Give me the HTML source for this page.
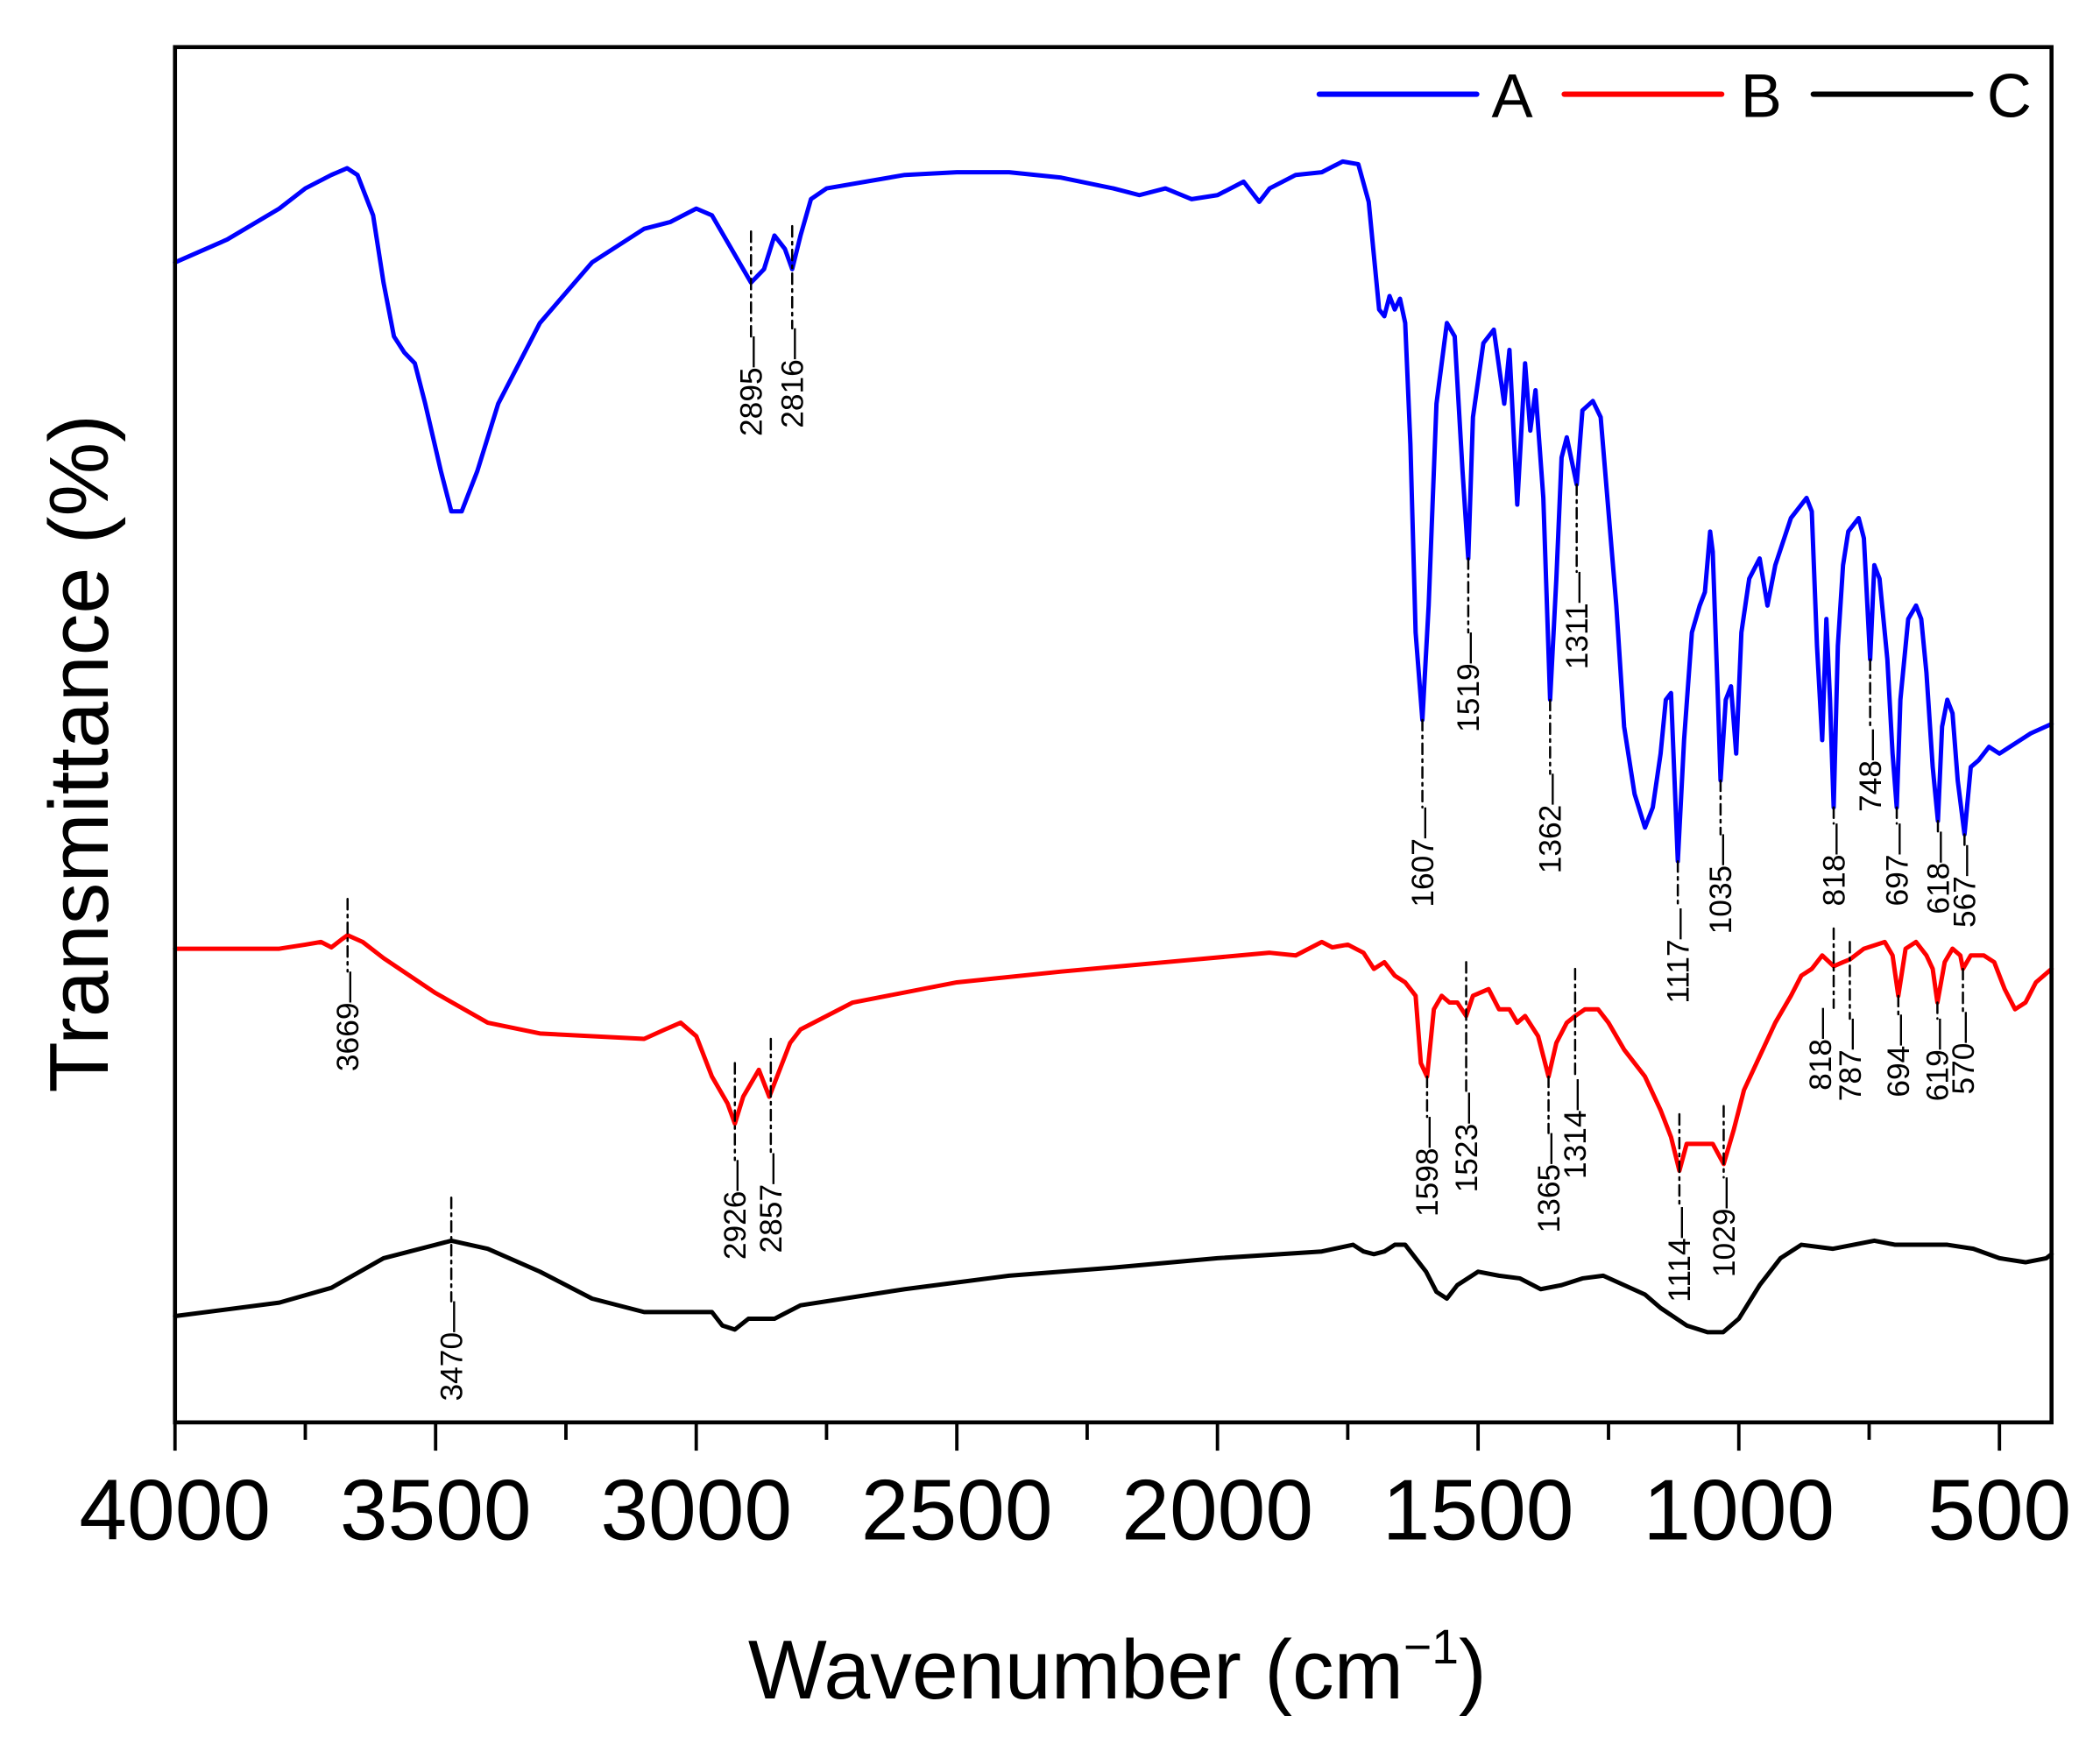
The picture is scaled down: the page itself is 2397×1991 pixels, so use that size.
<!DOCTYPE html>
<html><head><meta charset="utf-8"><style>html,body{margin:0;padding:0;background:#fff}svg{display:block}</style></head>
<body>
<svg width="2397" height="1991" viewBox="0 0 1560 1296" preserveAspectRatio="none" xmlns="http://www.w3.org/2000/svg" font-family="Liberation Sans, Arial, sans-serif">
<rect width="1560" height="1296" fill="#fff"/>
<g transform="matrix(-0.38722 0 0 1 1678.9 0)" fill="none" stroke-linejoin="round" stroke-linecap="round">
<polyline vector-effect="non-scaling-stroke" stroke="#0000ff" stroke-width="5" points="4000,195 3900,178 3800,155 3750,140 3700,130 3670,125 3650,130 3620,160 3600,210 3580,250 3560,262 3540,270 3520,300 3490,350 3470,380 3450,380 3420,350 3380,300 3300,240 3200,195 3100,170 3050,165 3000,155 2970,160 2940,180 2910,200 2895,210 2870,200 2850,175 2830,185 2816,200 2800,175 2780,148 2750,140 2600,130 2500,128 2400,128 2300,132 2200,140 2150,145 2100,140 2050,148 2000,145 1950,135 1920,150 1900,140 1850,130 1800,128 1760,120 1730,122 1710,150 1690,230 1680,235 1670,220 1660,230 1650,222 1640,240 1630,330 1620,470 1607,535 1595,450 1580,300 1560,240 1545,250 1530,350 1519,415 1510,310 1490,255 1470,245 1450,300 1440,260 1425,375 1410,270 1400,320 1390,290 1375,370 1362,520 1350,430 1340,340 1330,325 1311,360 1300,305 1280,298 1265,310 1250,380 1235,450 1220,540 1200,590 1180,615 1165,600 1150,560 1140,520 1130,515 1117,640 1105,550 1090,470 1075,450 1065,440 1055,395 1050,410 1040,520 1035,580 1025,520 1015,510 1005,560 995,470 980,430 960,415 945,450 930,420 900,385 870,370 860,380 850,480 840,550 832,460 825,520 818,600 810,480 800,420 790,395 770,385 760,400 748,490 740,420 730,430 715,490 705,560 697,600 690,520 675,460 660,450 650,460 640,500 628,570 618,610 610,540 600,520 590,530 580,580 567,620 555,570 540,565 520,555 500,560 480,555 460,550 440,545 400,538"/>
<polyline vector-effect="non-scaling-stroke" stroke="#ff0000" stroke-width="5" points="4000,705 3800,705 3750,702 3720,700 3700,704 3680,698 3669,695 3640,700 3600,712 3500,738 3400,760 3300,768 3100,772 3060,765 3030,760 3000,770 2970,800 2940,820 2926,835 2910,815 2880,795 2860,815 2845,800 2820,775 2800,765 2700,745 2500,730 2300,722 2100,715 1900,708 1850,710 1800,700 1780,704 1750,702 1720,708 1700,720 1680,715 1660,725 1640,730 1620,740 1610,790 1598,800 1585,750 1570,740 1555,745 1540,745 1523,755 1510,740 1480,735 1460,750 1440,750 1425,760 1410,755 1385,770 1365,800 1350,775 1330,760 1314,755 1295,750 1270,750 1250,760 1220,780 1180,800 1150,825 1130,845 1114,870 1100,850 1070,850 1050,850 1029,865 1010,840 990,810 960,785 930,760 900,740 880,725 860,720 840,710 818,718 800,715 787,713 760,705 720,700 705,710 694,740 680,705 660,700 640,710 628,720 619,745 605,715 590,705 575,710 570,720 555,710 530,710 510,715 490,735 470,750 450,745 430,730 400,720"/>
<polyline vector-effect="non-scaling-stroke" stroke="#000" stroke-width="5" points="4000,978 3800,968 3700,957 3600,935 3500,925 3470,922 3400,928 3300,945 3200,965 3100,975 3000,975 2970,975 2950,985 2926,988 2900,980 2850,980 2800,970 2600,958 2400,948 2200,942 2000,935 1800,930 1740,925 1720,930 1700,932 1680,930 1660,925 1640,925 1620,935 1600,945 1580,960 1560,965 1540,955 1500,945 1460,948 1420,950 1380,958 1340,955 1300,950 1260,948 1220,955 1180,962 1150,972 1100,985 1060,990 1030,990 1000,980 960,955 920,935 880,925 820,928 780,925 740,922 700,925 660,925 600,925 550,928 500,935 450,938 410,935 400,932"/>
<g stroke="#000" stroke-width="2.5" stroke-dasharray="12,6,3,6">
<line vector-effect="non-scaling-stroke" x1="2895" y1="172" x2="2895" y2="250"/>
<line vector-effect="non-scaling-stroke" x1="2816" y1="168" x2="2816" y2="244"/>
<line vector-effect="non-scaling-stroke" x1="1607" y1="535" x2="1607" y2="600"/>
<line vector-effect="non-scaling-stroke" x1="1519" y1="415" x2="1519" y2="470"/>
<line vector-effect="non-scaling-stroke" x1="1362" y1="520" x2="1362" y2="575"/>
<line vector-effect="non-scaling-stroke" x1="1311" y1="360" x2="1311" y2="425"/>
<line vector-effect="non-scaling-stroke" x1="1117" y1="640" x2="1117" y2="675"/>
<line vector-effect="non-scaling-stroke" x1="1035" y1="580" x2="1035" y2="620"/>
<line vector-effect="non-scaling-stroke" x1="818" y1="600" x2="818" y2="612"/>
<line vector-effect="non-scaling-stroke" x1="748" y1="490" x2="748" y2="542"/>
<line vector-effect="non-scaling-stroke" x1="697" y1="600" x2="697" y2="612"/>
<line vector-effect="non-scaling-stroke" x1="618" y1="610" x2="618" y2="618"/>
<line vector-effect="non-scaling-stroke" x1="567" y1="620" x2="567" y2="628"/>
<line vector-effect="non-scaling-stroke" x1="3669" y1="668" x2="3669" y2="722"/>
<line vector-effect="non-scaling-stroke" x1="2926" y1="790" x2="2926" y2="862"/>
<line vector-effect="non-scaling-stroke" x1="2857" y1="772" x2="2857" y2="857"/>
<line vector-effect="non-scaling-stroke" x1="1598" y1="800" x2="1598" y2="830"/>
<line vector-effect="non-scaling-stroke" x1="1523" y1="715" x2="1523" y2="812"/>
<line vector-effect="non-scaling-stroke" x1="1365" y1="800" x2="1365" y2="842"/>
<line vector-effect="non-scaling-stroke" x1="1314" y1="720" x2="1314" y2="802"/>
<line vector-effect="non-scaling-stroke" x1="1114" y1="828" x2="1114" y2="897"/>
<line vector-effect="non-scaling-stroke" x1="1029" y1="822" x2="1029" y2="875"/>
<line vector-effect="non-scaling-stroke" x1="818" y1="690" x2="818" y2="749"/>
<line vector-effect="non-scaling-stroke" x1="787" y1="700" x2="787" y2="757"/>
<line vector-effect="non-scaling-stroke" x1="694" y1="740" x2="694" y2="754"/>
<line vector-effect="non-scaling-stroke" x1="619" y1="745" x2="619" y2="757"/>
<line vector-effect="non-scaling-stroke" x1="570" y1="720" x2="570" y2="752"/>
<line vector-effect="non-scaling-stroke" x1="3470" y1="890" x2="3470" y2="967"/>
</g>
</g>
<g font-size="23" fill="#000" text-anchor="end">
<text transform="translate(566,250) rotate(-90)">2895—</text>
<text transform="translate(596.5,244) rotate(-90)">2816—</text>
<text transform="translate(1064.6,600) rotate(-90)">1607—</text>
<text transform="translate(1098.7,470) rotate(-90)">1519—</text>
<text transform="translate(1159.5,575) rotate(-90)">1362—</text>
<text transform="translate(1179.3,425) rotate(-90)">1311—</text>
<text transform="translate(1254.4,675) rotate(-90)">1117—</text>
<text transform="translate(1286.1,620) rotate(-90)">1035—</text>
<text transform="translate(1370.2,612) rotate(-90)">818—</text>
<text transform="translate(1397.3,542) rotate(-90)">748—</text>
<text transform="translate(1417,612) rotate(-90)">697—</text>
<text transform="translate(1447.6,618) rotate(-90)">618—</text>
<text transform="translate(1467.3,628) rotate(-90)">567—</text>
<text transform="translate(266.2,722) rotate(-90)">3669—</text>
<text transform="translate(553.9,862) rotate(-90)">2926—</text>
<text transform="translate(580.6,857) rotate(-90)">2857—</text>
<text transform="translate(1068.1,830) rotate(-90)">1598—</text>
<text transform="translate(1097.2,812) rotate(-90)">1523—</text>
<text transform="translate(1158.3,842) rotate(-90)">1365—</text>
<text transform="translate(1178.1,802) rotate(-90)">1314—</text>
<text transform="translate(1255.5,897) rotate(-90)">1114—</text>
<text transform="translate(1288.5,875) rotate(-90)">1029—</text>
<text transform="translate(1360.2,749) rotate(-90)">818—</text>
<text transform="translate(1382.2,757) rotate(-90)">787—</text>
<text transform="translate(1418.2,754) rotate(-90)">694—</text>
<text transform="translate(1447.2,757) rotate(-90)">619—</text>
<text transform="translate(1466.2,752) rotate(-90)">570—</text>
<text transform="translate(343.2,967) rotate(-90)">3470—</text>
</g>
<rect x="130" y="35" width="1394" height="1022" fill="none" stroke="#000" stroke-width="3"/>
<g stroke="#000" stroke-width="2.5">
<line x1="130" y1="1057" x2="130" y2="1078"/>
<line x1="323.6" y1="1057" x2="323.6" y2="1078"/>
<line x1="517.2" y1="1057" x2="517.2" y2="1078"/>
<line x1="710.8" y1="1057" x2="710.8" y2="1078"/>
<line x1="904.4" y1="1057" x2="904.4" y2="1078"/>
<line x1="1098" y1="1057" x2="1098" y2="1078"/>
<line x1="1291.7" y1="1057" x2="1291.7" y2="1078"/>
<line x1="1485.3" y1="1057" x2="1485.3" y2="1078"/>
<line x1="226.8" y1="1057" x2="226.8" y2="1070"/>
<line x1="420.4" y1="1057" x2="420.4" y2="1070"/>
<line x1="614" y1="1057" x2="614" y2="1070"/>
<line x1="807.6" y1="1057" x2="807.6" y2="1070"/>
<line x1="1001.2" y1="1057" x2="1001.2" y2="1070"/>
<line x1="1194.9" y1="1057" x2="1194.9" y2="1070"/>
<line x1="1388.5" y1="1057" x2="1388.5" y2="1070"/>
</g>
<g font-size="64" text-anchor="middle" fill="#000">
<text x="130" y="1144">4000</text>
<text x="323.6" y="1144">3500</text>
<text x="517.2" y="1144">3000</text>
<text x="710.8" y="1144">2500</text>
<text x="904.4" y="1144">2000</text>
<text x="1098" y="1144">1500</text>
<text x="1291.7" y="1144">1000</text>
<text x="1485.3" y="1144">500</text>
</g>
<text x="830" y="1262" font-size="62" text-anchor="middle">Wavenumber (cm<tspan font-size="36" dy="-26">−1</tspan><tspan dy="26">)</tspan></text>
<text transform="translate(80,560) rotate(-90)" font-size="62" text-anchor="middle">Transmittance (%)</text>
<g stroke-width="4" stroke-linecap="round">
<line x1="980" y1="70" x2="1097" y2="70" stroke="#0000ff"/>
<line x1="1162" y1="70" x2="1279" y2="70" stroke="#ff0000"/>
<line x1="1347" y1="70" x2="1464" y2="70" stroke="#000"/>
</g>
<g font-size="46" fill="#000">
<text x="1108" y="87">A</text>
<text x="1293" y="87">B</text>
<text x="1476" y="87">C</text>
</g>
</svg>
</body></html>
